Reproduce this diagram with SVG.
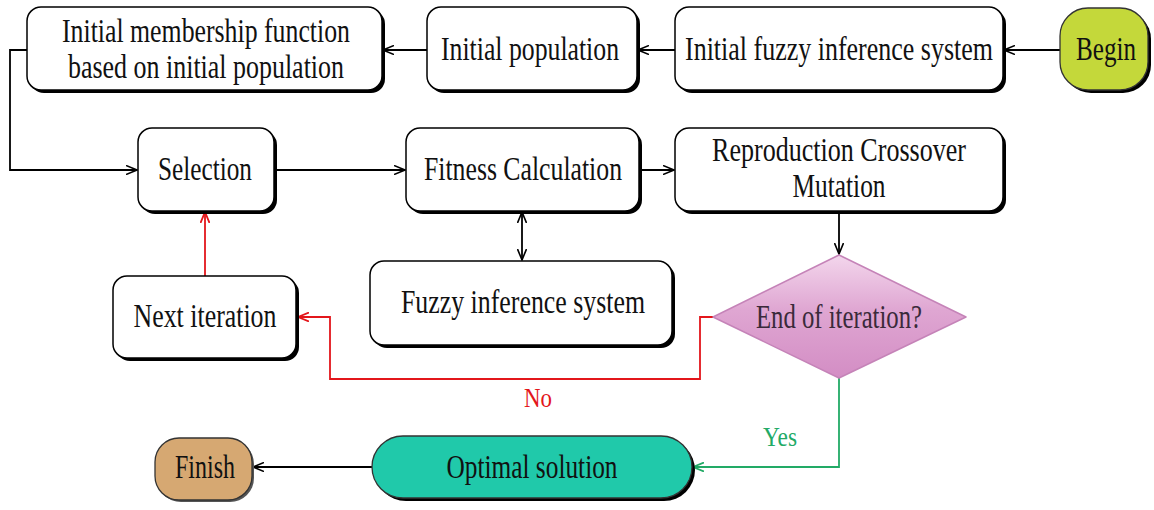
<svg xmlns="http://www.w3.org/2000/svg" width="1154" height="510" viewBox="0 0 1154 510">
<defs>
<style>
.box{fill:#fff;stroke:#000;stroke-width:1.5}
.sh{fill:#000}
.t{font-family:"Liberation Serif","Times New Roman",serif;font-size:33px;fill:#111;text-anchor:middle}
.c{fill:none;stroke:#000;stroke-width:1.8}
.r{stroke:#e3161b}
.g{stroke:#22aa66}
</style>
<linearGradient id="dg" x1="0" y1="0" x2="0" y2="1">
<stop offset="0" stop-color="#f3d6ec"/>
<stop offset="0.45" stop-color="#dfa6d2"/>
<stop offset="1" stop-color="#d38dc4"/>
</linearGradient>
<marker id="ak" viewBox="0 0 12 10" refX="11" refY="5" markerWidth="12" markerHeight="10" markerUnits="userSpaceOnUse" orient="auto-start-reverse"><path d="M0,0.5 L11,5 L0,9.5" fill="none" stroke="#000" stroke-width="1.6"/></marker>
<marker id="ar" viewBox="0 0 12 10" refX="11" refY="5" markerWidth="12" markerHeight="10" markerUnits="userSpaceOnUse" orient="auto"><path d="M0,0.5 L11,5 L0,9.5" fill="none" stroke="#e3161b" stroke-width="1.8"/></marker>
<marker id="ag" viewBox="0 0 12 10" refX="11" refY="5" markerWidth="12" markerHeight="10" markerUnits="userSpaceOnUse" orient="auto"><path d="M0,0.5 L11,5 L0,9.5" fill="none" stroke="#22aa66" stroke-width="1.8"/></marker>
</defs>
<rect width="1154" height="510" fill="#fff"/>

<g id="connectors">
<path class="c" d="M1060,50 H1004" marker-end="url(#ak)"/>
<path class="c" d="M675,50 H638" marker-end="url(#ak)"/>
<path class="c" d="M427,50 H383" marker-end="url(#ak)"/>
<path class="c" d="M27,50 H10 V170 H137" marker-end="url(#ak)"/>
<path class="c" d="M274,170 H405" marker-end="url(#ak)"/>
<path class="c" d="M639,170 H674" marker-end="url(#ak)"/>
<path class="c" d="M839,211 V254" marker-end="url(#ak)"/>
<path class="c" d="M522,212 V260" marker-start="url(#ak)" marker-end="url(#ak)"/>
<path class="c r" d="M713,317 H700 V379 H330 V317 H298" marker-end="url(#ar)"/>
<path class="c r" d="M205,276 V212" marker-end="url(#ar)"/>
<path class="c g" d="M839,378 V467 H693" marker-end="url(#ag)"/>
<path class="c" d="M372,467 H253" marker-end="url(#ak)"/>
<text x="538" y="407" font-family="Liberation Serif, serif" font-size="28" fill="#e3161b" text-anchor="middle" textLength="28" lengthAdjust="spacingAndGlyphs">No</text>
<text x="780" y="446" font-family="Liberation Serif, serif" font-size="28" fill="#22aa66" text-anchor="middle" textLength="34" lengthAdjust="spacingAndGlyphs">Yes</text>
</g>

<g id="n-membership">
<rect class="sh" x="30" y="10" width="355" height="83" rx="14"/>
<rect class="box" x="27" y="7" width="355" height="83" rx="14"/>
<text class="t" x="206" y="42" textLength="288" lengthAdjust="spacingAndGlyphs">Initial membership function</text>
<text class="t" x="206" y="78" textLength="276" lengthAdjust="spacingAndGlyphs">based on initial population</text>
</g>
<g id="n-population">
<rect class="sh" x="430" y="10" width="210" height="83" rx="14"/>
<rect class="box" x="427" y="7" width="210" height="83" rx="14"/>
<text class="t" x="530" y="60" textLength="178" lengthAdjust="spacingAndGlyphs">Initial population</text>
</g>
<g id="n-initfis">
<rect class="sh" x="678" y="10" width="328" height="83" rx="14"/>
<rect class="box" x="675" y="7" width="328" height="83" rx="14"/>
<text class="t" x="839" y="60" textLength="308" lengthAdjust="spacingAndGlyphs">Initial fuzzy inference system</text>
</g>
<g id="n-begin">
<rect class="sh" x="1063" y="11" width="88" height="82" rx="28"/>
<rect x="1060" y="8" width="88" height="82" rx="28" fill="#c4d83a" stroke="#333" stroke-width="1.3"/>
<text class="t" x="1106" y="60" textLength="60" lengthAdjust="spacingAndGlyphs">Begin</text>
</g>
<g id="n-selection">
<rect class="sh" x="141" y="131" width="136" height="83" rx="14"/>
<rect class="box" x="138" y="128" width="136" height="83" rx="14"/>
<text class="t" x="205" y="180" textLength="94" lengthAdjust="spacingAndGlyphs">Selection</text>
</g>
<g id="n-fitness">
<rect class="sh" x="409" y="131" width="233" height="83" rx="14"/>
<rect class="box" x="406" y="128" width="233" height="83" rx="14"/>
<text class="t" x="523" y="180" textLength="198" lengthAdjust="spacingAndGlyphs">Fitness Calculation</text>
</g>
<g id="n-repro">
<rect class="sh" x="678" y="131" width="328" height="83" rx="14"/>
<rect class="box" x="675" y="128" width="328" height="83" rx="14"/>
<text class="t" x="839" y="161" textLength="254" lengthAdjust="spacingAndGlyphs">Reproduction Crossover</text>
<text class="t" x="839" y="197" textLength="93" lengthAdjust="spacingAndGlyphs">Mutation</text>
</g>
<g id="n-next">
<rect class="sh" x="116" y="279" width="183" height="82" rx="14"/>
<rect class="box" x="113" y="276" width="183" height="82" rx="14"/>
<text class="t" x="205" y="327" textLength="143" lengthAdjust="spacingAndGlyphs">Next iteration</text>
</g>
<g id="n-fis">
<rect class="sh" x="373" y="264" width="302" height="84" rx="14"/>
<rect class="box" x="370" y="261" width="302" height="84" rx="14"/>
<text class="t" x="523" y="313" textLength="244" lengthAdjust="spacingAndGlyphs">Fuzzy inference system</text>
</g>
<g id="n-end">
<path d="M839,255 L966,317 L839,378 L713,317 Z" fill="url(#dg)" stroke="#c583b8" stroke-width="1.5" stroke-linejoin="round"/>
<text class="t" x="839" y="328" style="fill:#3a2a3a" textLength="166" lengthAdjust="spacingAndGlyphs">End of iteration?</text>
</g>
<g id="n-optimal">
<rect class="sh" x="375" y="439" width="320" height="62" rx="31"/>
<rect x="372" y="436" width="320" height="62" rx="31" fill="#20c9aa" stroke="#333" stroke-width="1.3"/>
<text class="t" x="532" y="478" textLength="171" lengthAdjust="spacingAndGlyphs">Optimal solution</text>
</g>
<g id="n-finish">
<rect x="157" y="440" width="97" height="62" rx="24" fill="#555"/>
<rect x="155" y="438" width="97" height="62" rx="24" fill="#d6a872" stroke="#333" stroke-width="1.3"/>
<text class="t" x="205" y="478" textLength="60" lengthAdjust="spacingAndGlyphs">Finish</text>
</g>
</svg>
